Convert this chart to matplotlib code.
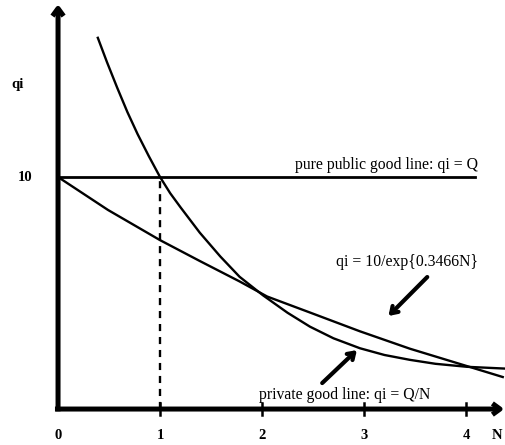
# -*- coding: utf-8 -*-
import matplotlib
matplotlib.use('Agg')
import matplotlib.pyplot as plt

# values
n_public = [0.0, 4.09]
q_public = [10.0, 10.0]

n_private = [0.39, 0.48, 0.58, 0.68, 0.78, 0.89, 1.0, 1.1, 1.2, 1.39, 1.59, 1.78, 2.01,
             2.25, 2.47, 2.7, 2.96, 3.2, 3.45, 3.7, 4.01, 4.40]
q_private = [16.0, 14.95, 13.85, 12.8, 11.85, 10.9, 10.0, 9.3, 8.7, 7.6, 6.58, 5.7, 4.9,
             4.15, 3.55, 3.05, 2.62, 2.33, 2.12, 1.95, 1.82, 1.74]

n_exp = [0.0, 0.49, 1.0, 1.39, 1.78, 2.05, 2.47, 2.96, 3.45, 4.01, 4.36]
q_exp = [10.0, 8.58, 7.28, 6.38, 5.50, 4.85, 4.16, 3.35, 2.60, 1.85, 1.38]

n_dash = [1.0, 1.0]
q_dash = [0.0, 10.0]

x_ticks = [0, 1, 2, 3, 4]
x_ticklabels = ['0', '1', '2', '3', '4']

FONT = ['Liberation Serif', 'DejaVu Serif']
plt.rcParams['font.family'] = FONT

fig = plt.figure(figsize=(5.06, 4.45), dpi=100)
ax = fig.add_axes([0, 0, 1, 1])
ax.set_xlim(-0.569, 4.392)
ax.set_ylim(-1.55, 17.63)
ax.axis('off')

# axes drawn as thick arrows
arrow_kw = dict(arrowstyle='->, head_width=0.4, head_length=0.55', lw=3.6, color='black',
                shrinkA=0, shrinkB=0, capstyle='butt')
ax.annotate('', xy=(4.375, 0), xytext=(-0.03, 0), arrowprops=arrow_kw)
ax.annotate('', xy=(0, 17.45), xytext=(0, -0.1), arrowprops=arrow_kw)

# tick marks
for t in x_ticks[1:]:
    ax.plot([t, t], [-0.25, 0.25], color='black', lw=1.8)

ax.plot(n_public, q_public, color='black', lw=2.0)
ax.plot(n_private, q_private, color='black', lw=1.7, solid_joinstyle='round')
ax.plot(n_exp, q_exp, color='black', lw=1.7, solid_joinstyle='round')
ax.plot(n_dash, q_dash, color='black', lw=1.7, ls=(0, (3, 2.5)))

for t, lab in zip(x_ticks, x_ticklabels):
    ax.text(t, -1.12, lab, ha='center', va='center', fontsize=10.5, fontweight='bold')
ax.text(4.30, -1.12, 'N', ha='center', va='center', fontsize=10.5, fontweight='bold')
ax.text(-0.40, 13.97, 'qi', ha='center', va='center', fontsize=10.5, fontweight='bold')
ax.text(-0.32, 10.0, '10', ha='center', va='center', fontsize=10.5, fontweight='bold')

ax.text(3.22, 10.52, 'pure public good line: qi = Q', ha='center', va='center', fontsize=11.3)
ax.text(3.42, 6.34, 'qi = 10/exp{0.3466N}', ha='center', va='center', fontsize=11.3)
ax.text(2.81, 0.60, 'private good line: qi = Q/N', ha='center', va='center', fontsize=11.3)

label_arrow = dict(arrowstyle='->, head_width=0.3, head_length=0.45', lw=3.0, color='black',
                   shrinkA=0, shrinkB=0)
ax.annotate('', xy=(3.24, 4.01), xytext=(3.62, 5.69), arrowprops=label_arrow)
ax.annotate('', xy=(2.93, 2.54), xytext=(2.59, 1.12), arrowprops=label_arrow)

fig.savefig('out.png', dpi=100)
